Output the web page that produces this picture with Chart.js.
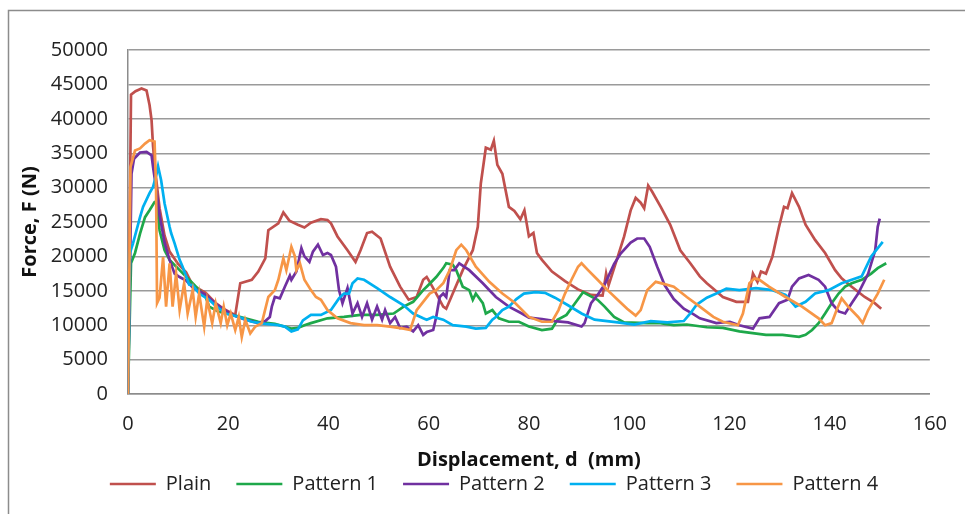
<!DOCTYPE html>
<html>
<head>
<meta charset="utf-8">
<script src="https://cdn.jsdelivr.net/npm/chart.js@4.4.1/dist/chart.umd.min.js"></script>
<style>
  html, body { margin: 0; padding: 0; background: #fff; }
  #wrap { width: 965px; height: 514px; }
</style>
</head>
<body>
<div id="wrap"><canvas id="forceChart" width="965" height="514"></canvas></div>
<script>
// data: [displacement mm, force N]
const seriesNames = ['Plain', 'Pattern 1', 'Pattern 2', 'Pattern 3', 'Pattern 4'];
const seriesColors = ['#C0504D', '#1EA84A', '#7030A0', '#00B0F0', '#F79646'];
const xTicks = [0, 20, 40, 60, 80, 100, 120, 140, 160];
const yTicks = [0, 5000, 10000, 15000, 20000, 25000, 30000, 35000, 40000, 45000, 50000];

const plain = [
  [0,0],[0.6,43500],[1.5,44000],[2.7,44400],[3.7,44100],[4.3,42000],[4.7,39800],[5.0,36000],[5.5,32000],
  [6.3,27000],[7.3,23000],[8.3,20700],[10,18900],[11.6,17700],[12.9,15800],[15.5,14700],[17.5,13200],
  [19,12400],[20.8,11700],[21.4,11500],[22.4,16100],[24.7,16600],[26,17800],[27.4,19700],[28,23800],
  [30,24800],[31,26400],[32.2,25200],[33.9,24600],[35.2,24200],[36.5,24900],[38.5,25400],[39.8,25300],
  [40.5,24800],[41.8,22900],[43.8,20900],[45.4,19200],[46.4,20900],[47.7,23400],[48.7,23600],[50.4,22600],
  [52.3,18500],[54.3,15600],[56,13700],[57.6,14100],[58.9,16600],[59.6,17000],[60.2,16300],[61.5,14600],
  [62.9,12700],[63.5,12400],[64.8,14600],[66.8,18000],[68.8,20900],[69.8,24300],[70.4,30600],[71.4,35800],
  [72.4,35500],[73,36800],[73.7,33300],[74.7,32000],[76,27200],[77.1,26600],[78.3,25400],[79.1,26700],
  [80,22900],[80.9,23400],[81.6,20500],[82.6,19500],[84.6,17800],[87.2,16400],[89.8,15200],[92.4,14400],
  [94.7,14300],[95.4,17500],[95.9,15800],[97.7,19900],[99,22900],[100.3,26700],[101.3,28500],[102.3,27800],
  [103,27000],[103.8,30300],[104.6,29400],[106.3,27200],[108.2,24600],[110.2,20900],[112.2,19000],
  [114.1,17100],[115.5,16100],[116.8,15300],[118.7,14100],[121.4,13400],[123.7,13400],[124.7,17500],
  [125.6,16300],[126.3,17800],[127.3,17500],[128.6,20000],[129.9,24300],[130.9,27200],[131.6,27000],
  [132.5,29200],[133.9,27200],[135.2,24600],[137.1,22400],[139.1,20500],[141.1,18000],[142.4,16800],
  [144.4,15600],[147,14100],[149,13200],[150.3,12400]
];

const pattern1 = [
  [0,0],[0.6,19000],[1.4,20500],[2.4,23300],[3.4,25700],[4.3,26700],[5.3,27900],[5.7,28000],[6.3,23800],
  [7.3,20900],[8.3,19500],[10.3,18000],[12.9,16100],[15.5,14100],[16.2,12700],[18,12000],[20.8,11500],
  [23.4,11000],[26,10500],[29.3,10200],[32.6,9500],[33.9,9600],[35.2,10000],[36.5,10300],[39.8,11000],
  [43.1,11200],[46.4,11500],[49.7,11500],[53,11700],[55,12700],[56.9,13400],[58.9,15100],[59.6,15600],
  [61.5,17000],[62.9,18300],[63.5,19000],[64.8,18800],[65.5,18000],[66.8,15600],[68.1,15100],[68.8,13700],
  [69.4,14600],[70.8,13200],[71.4,11700],[72.7,12200],[74,11000],[76,10500],[78,10500],[80,9800],
  [82.6,9300],[84.6,9500],[85.7,10800],[87.5,11500],[89.2,13200],[90.8,14800],[91.8,14400],[93.7,13700],
  [95.1,12700],[97,11200],[99,10400],[103.6,10300],[106.2,10300],[108.9,10000],[111.5,10100],[115.5,9700],
  [118.7,9600],[122,9100],[127.3,8600],[130.6,8600],[133.9,8300],[135.2,8600],[136.5,9300],[137.8,10300],
  [139.1,11700],[140.4,13200],[141.8,14600],[143.1,15600],[144.4,16100],[146.4,16600],[148.3,17500],
  [149.6,18300],[151.3,19000]
];

const pattern2 = [
  [0,0],[0.7,32000],[1.2,34200],[2.4,35100],[3.7,35200],[4.7,34700],[5.0,33000],[5.6,30000],[6.3,26000],
  [7.3,22000],[8.3,19500],[9.3,17500],[10.3,17000],[11.6,16500],[12.9,15500],[15.5,14400],[17.5,13100],
  [20.8,11500],[23.4,10800],[26,10300],[27.4,10600],[28.3,11200],[28.7,12700],[29.3,14100],[30.3,13900],
  [31.3,15600],[32.3,17200],[32.6,16600],[33.6,17800],[34.6,21200],[35.2,20000],[36.2,19200],[36.9,20700],
  [37.9,21700],[38.9,20200],[39.8,20500],[40.5,20200],[41.5,18500],[42.1,15100],[42.8,13200],[43.8,15400],
  [44.8,11700],[45.8,13200],[46.7,11200],[47.7,13200],[48.7,10800],[49.7,12700],[50.7,10800],[51.3,12200],
  [52.3,10300],[53.3,11200],[54.3,9600],[55.6,9800],[56.9,9100],[57.9,10000],[58.9,8600],[59.6,9000],
  [60.9,9300],[61.5,11200],[62.2,14100],[62.9,14600],[63.5,14100],[64.2,18000],[65.1,18000],[66.1,19000],
  [68.1,18000],[70.8,16100],[73.4,14100],[76,12700],[78.6,11700],[80,11100],[82.6,10900],[85.2,10600],
  [87.8,10400],[90.5,9800],[91.1,10300],[92.4,13200],[93.7,14400],[95.1,15900],[97,18900],[98.3,20400],
  [100.3,22000],[101.6,22600],[103,22600],[104.1,21400],[105.6,18500],[107.1,15800],[108.9,13800],
  [110.9,12400],[112.8,11600],[114.1,11000],[117.4,10300],[120.1,10500],[122,10000],[124.7,9500],[126,11000],
  [128,11200],[129.9,13200],[131.6,13700],[132.5,15600],[133.9,16800],[135.8,17300],[137.8,16600],
  [139.1,15600],[140.4,13200],[141.8,12000],[143.1,11700],[144.4,13200],[145.7,14600],[147.7,17500],
  [149.1,20900],[149.6,24300],[150,25500]
];

const pattern3 = [
  [0,0],[0.4,20500],[1,21900],[2.4,25700],[3,27200],[4.3,29200],[5,30100],[5.7,32000],[6,33100],[6.6,31100],
  [7.3,27700],[8.3,24300],[8.6,23400],[9.3,21900],[10.3,19500],[10.9,18500],[12.2,15900],[12.9,15800],
  [14.2,14600],[16.2,13700],[17.5,12800],[19.5,11700],[22.1,11200],[24.7,10500],[27.4,10200],[30,10000],
  [31.3,9800],[32.6,9100],[33.9,9400],[34.9,10700],[36.5,11500],[38.5,11500],[40.5,12200],[42.1,13900],
  [43.1,14600],[44.1,14600],[44.8,16100],[45.8,16800],[47.1,16600],[49.7,15400],[52.3,14100],[55,12900],
  [56.9,11700],[58.9,11000],[59.6,10800],[60.9,11200],[62.9,10800],[64.8,10000],[67.5,9800],[69.4,9500],
  [71.4,9600],[72.7,10800],[73.4,11200],[74.7,12200],[76,12700],[77.5,13800],[79,14600],[81.3,14800],
  [83.2,14700],[85.2,14000],[87.8,12900],[90.5,11700],[93.1,10800],[97.7,10400],[101,10100],[104.3,10600],
  [107.6,10400],[110.9,10600],[112.2,11700],[113.5,13000],[115.5,14000],[117.4,14600],[119.4,15300],
  [122,15100],[125.3,15400],[128.6,15100],[131.2,14400],[133.2,12700],[135.2,13400],[137.1,14600],
  [139.8,15100],[142.4,16100],[144.4,16600],[146.4,17100],[148.3,20000],[150.6,22100]
];

const pattern4 = [
  [0,0],[0.5,33000],[1.4,35400],[2.4,35700],[3.4,36400],[4.3,36900],[5.3,36700],[5.6,30000],[5.8,13200],
  [6.3,14000],[7,19900],[7.6,12700],[8.3,19000],[8.9,12700],[9.6,17500],[10.3,12200],[11.2,16100],
  [11.9,11700],[12.9,15100],[13.5,11200],[14.2,14600],[15.2,9800],[15.8,13700],[16.8,10300],[17.5,13200],
  [18.5,10300],[19.1,12700],[19.8,10000],[20.5,11700],[21.4,9300],[22.1,11200],[22.7,8300],[23.4,10800],
  [24.4,8800],[25.4,9800],[26.7,10300],[28,14100],[29.3,15100],[30,16600],[31,19700],[31.6,18000],
  [32.6,21400],[33.3,20000],[33.6,18000],[34.3,19000],[35.2,16600],[36.5,15100],[37.5,14100],[38.5,13700],
  [39.8,12200],[41.8,11000],[44.4,10300],[47.1,10000],[49.7,10000],[52.3,9800],[55,9500],[56.3,9300],
  [57.6,12200],[58.9,13400],[60.2,14600],[61.5,15100],[62.9,16100],[64.2,18000],[65.5,20900],[66.5,21700],
  [67.5,20900],[69.4,18500],[72.1,16300],[74.7,14600],[77.3,13200],[80,11200],[82.6,10500],[84.6,10500],
  [85.9,12200],[87.2,14600],[88.5,16600],[89.8,18500],[90.5,19000],[91.8,18000],[93.7,16600],[95.7,15100],
  [97.7,13700],[99.6,12400],[101.3,11400],[102.3,12200],[103.6,15100],[105.3,16300],[106.9,16000],
  [108.9,15600],[111.5,14100],[114.1,12700],[116.8,11200],[118.7,10500],[121.7,10000],[122.7,11700],
  [124,16100],[125,16800],[126,16600],[127.9,15600],[131.2,14100],[134.5,12700],[137.8,11000],[139.1,10000],
  [140.4,10300],[141.4,12200],[142.4,13900],[143.7,12700],[145.7,11200],[146.6,10300],[147.7,12200],
  [149.6,14600],[150.9,16600]
];

const allSeries = [plain, pattern1, pattern2, pattern3, pattern4];

/* ---------- frame round the whole chart, legend nudge ---------- */
const framePlugin = {
  id: 'frame',
  afterLayout(chart) {
    // the original legend sits a bit right of the canvas centre
    chart.legend.left += 24;
    chart.legend.right += 24;
  },
  beforeDraw(chart) {
    const ctx = chart.ctx;
    ctx.save();
    ctx.fillStyle = '#fff';
    ctx.fillRect(0, 0, chart.width, chart.height);
    ctx.strokeStyle = '#8c8c8c';
    ctx.lineWidth = 1.5;
    ctx.strokeRect(8.5, 10.5, 990, 600);
    ctx.restore();
  }
};

const baseFont = "'Open Sans', 'Liberation Sans', sans-serif";

new Chart(document.getElementById('forceChart'), {
  type: 'line',
  data: {
    datasets: allSeries.map((s, i) => ({
      label: seriesNames[i],
      data: s,
      borderColor: seriesColors[i],
      backgroundColor: seriesColors[i],
      borderWidth: 2.7,
      pointRadius: 0,
      tension: 0,
      order: 5 - i   // later series on top, like the original
    }))
  },
  options: {
    responsive: false,
    animation: false,
    layout: { padding: { top: 50, right: 25, left: 0, bottom: 10 } },
    plugins: {
      tooltip: { enabled: false },
      legend: {
        position: 'bottom',
        labels: {
          sort: (a, b) => a.datasetIndex - b.datasetIndex,
          usePointStyle: true,
          pointStyle: 'line',
          pointStyleWidth: 46,
          padding: 25,
          color: '#222',
          font: { family: baseFont, size: 20 }
        }
      }
    },
    scales: {
      x: {
        type: 'linear',
        min: 0, max: 160,
        afterBuildTicks: s => { s.ticks = xTicks.map(v => ({ value: v })); },
        afterFit: s => { s.height = 55; },
        grid: { display: false, drawTicks: false },
        border: { display: true, color: '#8c8c8c', width: 1.5 },
        ticks: { padding: 18, color: '#222', font: { family: baseFont, size: 20 }, callback: v => String(v) },
        title: {
          display: true,
          text: 'Displacement, d  (mm)',
          color: '#111',
          padding: { top: 0, bottom: -23 },
          font: { family: baseFont, size: 20, weight: 'bold' }
        }
      },
      y: {
        min: 0, max: 50000,
        afterBuildTicks: s => { s.ticks = yTicks.map(v => ({ value: v })); },
        afterFit: s => { s.width = 128; },
        grid: { color: '#9a9a9a', lineWidth: 1.4, drawTicks: false },
        border: { display: true, color: '#8c8c8c', width: 1.5 },
        ticks: { padding: 20, color: '#222', font: { family: baseFont, size: 20 }, callback: v => String(v) },
        title: {
          display: true,
          text: 'Force, F (N)',
          color: '#111',
          padding: { top: 18, bottom: 0 },
          font: { family: baseFont, size: 20, weight: 'bold' }
        }
      }
    }
  },
  plugins: [framePlugin]
});
</script>
</body>
</html>
